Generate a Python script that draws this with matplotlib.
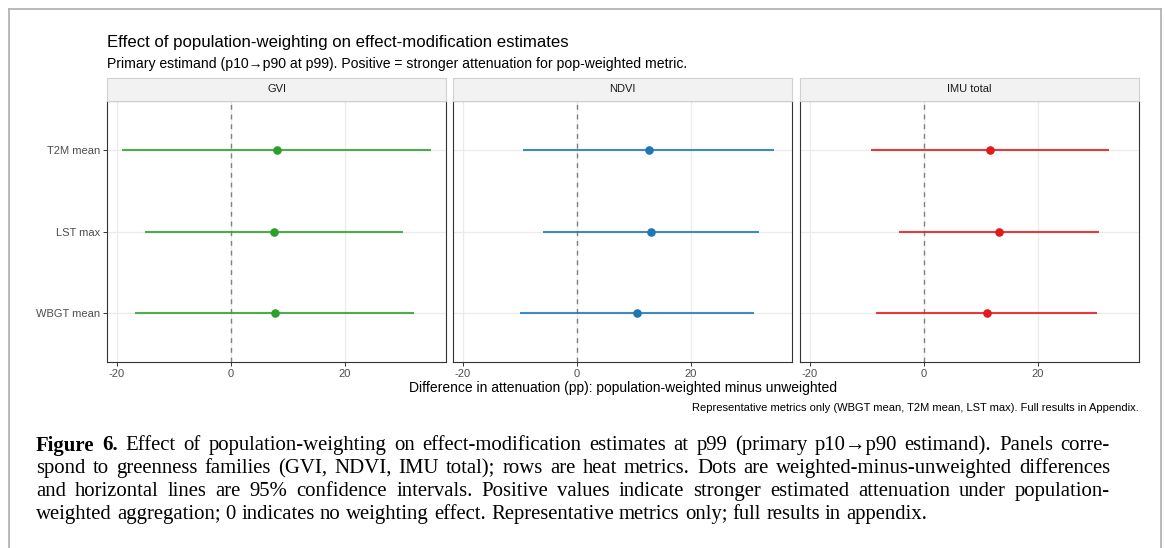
import matplotlib
matplotlib.use("Agg")
import matplotlib.pyplot as plt
from matplotlib.lines import Line2D

# ---------------- data ----------------
families = ["GVI", "NDVI", "IMU total"]
metrics = ["T2M mean", "LST max", "WBGT mean"]          # top to bottom
colors = ["#2ca02c", "#1f78b4", "#e31a1c"]

gvi_est = [8.1, 7.6, 7.7]
gvi_lo = [-19.1, -15.0, -16.9]
gvi_hi = [35.2, 30.2, 32.2]

ndvi_est = [12.6, 13.0, 10.5]
ndvi_lo = [-9.5, -5.9, -10.0]
ndvi_hi = [34.6, 31.9, 31.0]

imu_est = [11.6, 13.2, 11.0]
imu_lo = [-9.3, -4.4, -8.4]
imu_hi = [32.5, 30.8, 30.4]

xticks = [-20, 0, 20]
xticklabels = ["-20", "0", "20"]

title = "Effect of population-weighting on effect-modification estimates"
subtitle = ("Primary estimand (p10\u2192p90 at p99). Positive = stronger attenuation "
            "for pop-weighted metric.")
xlabel = "Difference in attenuation (pp): population-weighted minus unweighted"
note = ("Representative metrics only (WBGT mean, T2M mean, LST max). "
        "Full results in Appendix.")
caption_lines = [
    "Figure 6. Effect of population-weighting on effect-modification estimates at p99 "
    "(primary p10\u2192p90 estimand). Panels corre-",
    "spond to greenness families (GVI, NDVI, IMU total); rows are heat metrics. "
    "Dots are weighted-minus-unweighted differences",
    "and horizontal lines are 95% confidence intervals. Positive values indicate "
    "stronger estimated attenuation under population-",
    "weighted aggregation; 0 indicates no weighting effect. Representative metrics "
    "only; full results in appendix.",
]

est = [gvi_est, ndvi_est, imu_est]
lo = [gvi_lo, ndvi_lo, imu_lo]
hi = [gvi_hi, ndvi_hi, imu_hi]

# ---------------- figure ----------------
W, H = 1165, 548
fig = plt.figure(figsize=(W / 100, H / 100), dpi=100)
fig.patch.set_facecolor("white")
SANS = ["Liberation Sans", "DejaVu Sans"]
SERIF = ["Liberation Serif", "DejaVu Serif"]

def fx(px):
    return px / W

def fy(py):
    return 1 - py / H

renderer = fig.canvas.get_renderer()

def fit(txt, target):
    w = txt.get_window_extent(renderer).width
    txt.set_fontsize(txt.get_fontsize() * target / w)

# outer frame
frame_c = "#b3b3b3"
fig.add_artist(Line2D([fx(8.5), fx(8.5)], [fy(8.5), 0], color=frame_c, lw=1.3))
fig.add_artist(Line2D([fx(8.5), fx(1160.5)], [fy(8.5), fy(8.5)], color=frame_c, lw=1.3))
fig.add_artist(Line2D([fx(1160.5), fx(1160.5)], [fy(8.5), 0], color=frame_c, lw=1.3))

panel_left = [107, 453, 800]
panel_w = 339
panel_top, panel_bot = 101, 362
strip_top = 78
xlim = (-21.75, 37.75)
ypos = [3, 2, 1]

for i, fam in enumerate(families):
    L = panel_left[i]
    ax = fig.add_axes([fx(L), fy(panel_bot), fx(panel_w), (panel_bot - panel_top) / H])
    ax.set_xlim(*xlim)
    ax.set_ylim(0.4, 3.6)
    for y in ypos:
        ax.axhline(y, color="#ebebeb", lw=0.9, zorder=0)
    for xt in xticks:
        ax.axvline(xt, color="#ebebeb", lw=0.9, zorder=0)
    ax.axvline(0, color="#808080", lw=1.0, ls=(0, (3.5, 3.5)), zorder=1)
    ax.hlines(ypos, lo[i], hi[i], color=colors[i], lw=1.5, alpha=0.85, zorder=2)
    ax.plot(est[i], ypos, "o", color=colors[i], ms=6.2, mec="none", zorder=3)
    ax.set_xticks(xticks)
    ax.set_xticklabels(xticklabels, family=SANS, fontsize=8, color="#4d4d4d")
    ax.tick_params(axis="x", length=2.8, width=0.7, color="#333333", pad=2.0)
    if i == 0:
        ax.set_yticks(ypos)
        ax.set_yticklabels(metrics, family=SANS, fontsize=8, color="#4d4d4d")
        ax.tick_params(axis="y", length=2.8, width=0.7, color="#333333", pad=2.0)
    else:
        ax.set_yticks([])
    for s in ax.spines.values():
        s.set_color("#333333")
        s.set_linewidth(0.8)
    # strip
    sx = fig.add_axes([fx(L), fy(panel_top), fx(panel_w), (panel_top - strip_top) / H])
    sx.set_facecolor("#f2f2f2")
    sx.set_xticks([])
    sx.set_yticks([])
    for s in sx.spines.values():
        s.set_color("#d0d0d0")
        s.set_linewidth(0.8)
    sx.text(0.5, 0.5, fam, transform=sx.transAxes, ha="center", va="center",
            family=SANS, fontsize=8, color="#1a1a1a")

# titles & labels
t = fig.text(fx(107), fy(43), title, ha="left", va="center", family=SANS, fontsize=11, color="black")
fit(t, 460)
t = fig.text(fx(107), fy(64), subtitle, ha="left", va="center", family=SANS, fontsize=8.5, color="black")
fit(t, 574)
t = fig.text(fx(623), fy(388), xlabel, ha="center", va="center", family=SANS, fontsize=9.5, color="black")
fit(t, 428)
t = fig.text(fx(1139), fy(408), note, ha="right", va="center", family=SANS, fontsize=6.5, color="black")
fit(t, 447)

# caption (justified)
cap_x0, cap_x1 = 36, 1110
cap_y = [443, 466, 489, 512]

cap_size = 12.0

def word_width(word, bold, size):
    tt = fig.text(0, 0, word, family=SERIF, fontsize=size,
                  fontweight="bold" if bold else "normal")
    w = tt.get_window_extent(renderer).width
    tt.remove()
    return w

# size so that the first line's natural width nearly fills the measure
first_words = caption_lines[0].split(" ")
sp = word_width("a a", False, cap_size) - 2 * word_width("a", False, cap_size)
nat = sum(word_width(w_, wi < 2, cap_size) for wi, w_ in enumerate(first_words)) \
    + sp * (len(first_words) - 1)
cap_size = cap_size * 1045 / nat

space = word_width("a a", False, cap_size) - 2 * word_width("a", False, cap_size)
for li, line in enumerate(caption_lines):
    words = line.split(" ")
    bolds = [li == 0 and wi < 2 for wi in range(len(words))]
    widths = [word_width(w_, b, cap_size) for w_, b in zip(words, bolds)]
    if li < len(caption_lines) - 1:
        gap = (cap_x1 - cap_x0 - sum(widths)) / (len(words) - 1)
    else:
        gap = space
    x = cap_x0
    for w_, b, wd in zip(words, bolds, widths):
        fig.text(fx(x), fy(cap_y[li]), w_, ha="left", va="center_baseline",
                 family=SERIF, fontsize=cap_size, color="black",
                 fontweight="bold" if b else "normal")
        x += wd + gap

fig.savefig("out.png", dpi=100, facecolor="white")
